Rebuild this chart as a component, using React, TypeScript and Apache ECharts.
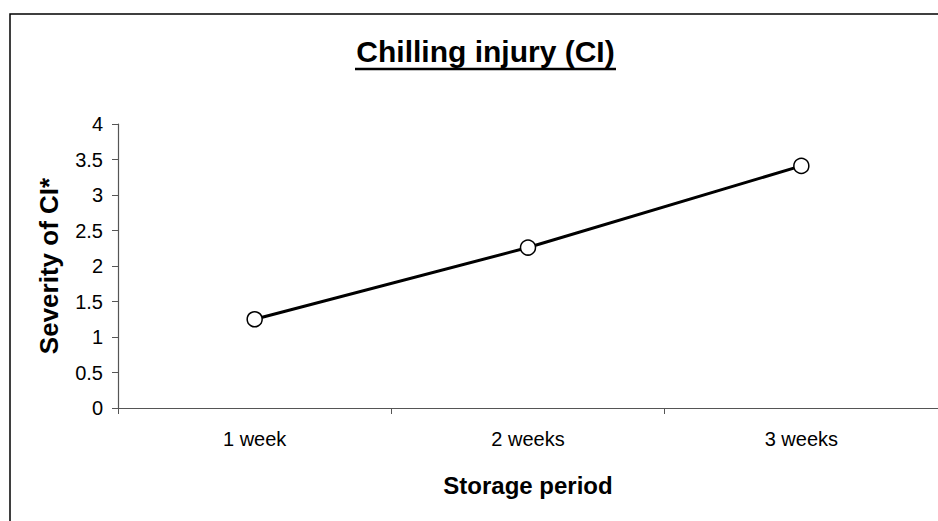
import React, { useEffect, useRef } from "react";
import * as echarts from "echarts";

const categories = ["1 week", "2 weeks", "3 weeks"];
const severity = [1.25, 2.26, 3.41];
const titleText = "Chilling injury (CI)";
const yName = "Severity of CI*";
const xName = "Storage period";

export default function App() {
  const ref = useRef<HTMLDivElement>(null);
  useEffect(() => {
    document.body.style.margin = "0";
    const chart = echarts.init(ref.current!, undefined, { renderer: "svg" });
    const font = "Liberation Sans, Arial, Helvetica, sans-serif";
    chart.setOption({
      animation: false,
      backgroundColor: "#ffffff",
      textStyle: { fontFamily: font },
      graphic: [
        {
          type: "rect",
          shape: { x: 10, y: 14, width: 940, height: 530 },
          style: { fill: "none", stroke: "#000", lineWidth: 1.5 },
          silent: true,
        },
        {
          type: "text",
          x: 485.5,
          y: 51,
          style: {
            text: titleText,
            font: `bold 30px ${font}`,
            fill: "#000",
            align: "center",
            verticalAlign: "middle",
          },
        },
        {
          type: "line",
          shape: { x1: 355, y1: 69, x2: 616, y2: 69 },
          style: { stroke: "#000", lineWidth: 2.5 },
        },
      ],
      grid: { left: 118, top: 124, right: -3, bottom: 113, containLabel: false },
      xAxis: {
        type: "category",
        data: categories,
        boundaryGap: true,
        axisLine: { lineStyle: { color: "#555", width: 1.2 } },
        axisTick: { show: true, length: 6, inside: false, lineStyle: { color: "#555" } },
        axisLabel: { color: "#000", fontSize: 20, margin: 21, fontFamily: font },
        name: xName,
        nameLocation: "middle",
        nameGap: 65,
        nameTextStyle: { color: "#000", fontSize: 24, fontWeight: "bold", fontFamily: font },
      },
      yAxis: {
        type: "value",
        min: 0,
        max: 4,
        interval: 0.5,
        axisLine: { show: true, lineStyle: { color: "#555", width: 1.2 } },
        axisTick: { show: true, length: 6, lineStyle: { color: "#555" } },
        splitLine: { show: false },
        axisLabel: { color: "#000", fontSize: 20, margin: 15, fontFamily: font },
        name: yName,
        nameLocation: "middle",
        nameGap: 56,
        nameTextStyle: { color: "#000", fontSize: 26, fontWeight: "bold", fontFamily: font },
      },
      series: [
        {
          type: "line",
          data: severity,
          symbol: "circle",
          symbolSize: 15,
          lineStyle: { color: "#000", width: 3 },
          itemStyle: { color: "#fff", borderColor: "#000", borderWidth: 1.5 },
        },
      ],
    });
    return () => chart.dispose();
  }, []);
  return <div ref={ref} style={{ width: 938, height: 521 }} />;
}
